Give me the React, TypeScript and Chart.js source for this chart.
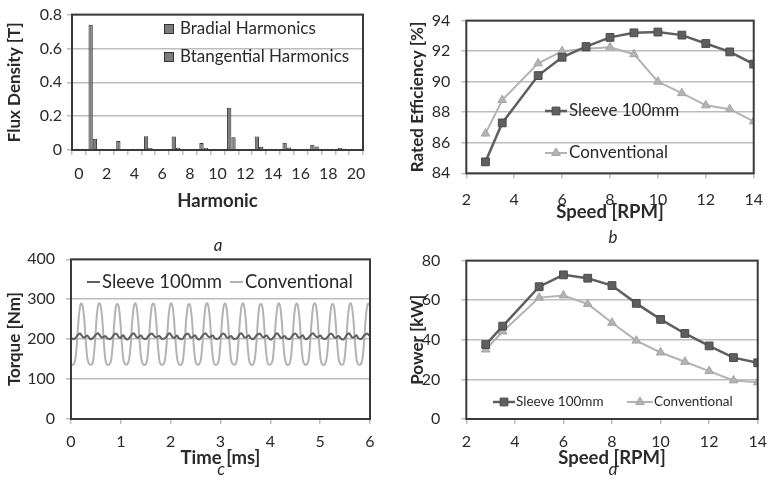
import React, { useEffect, useRef } from "react";
import { Chart, registerables } from "chart.js";

Chart.register(...registerables);

const FONT = "Lato, 'Open Sans', 'DejaVu Sans', sans-serif";
const TEXT = "#2a2a2a";
const GRID = "#bdbdbd";
const FRAME = "#3a3a3a";
const DARK = "#5f5f5f";
const DARK_EDGE = "#4a4a4a";
const LIGHT = "#b3b3b3";
const BAR_FILL = "#7c7c7c";
const BAR_EDGE = "#333333";

// ---------- Panel a: flux density harmonics ----------
const harmonicLabels = [
  "0", "1", "2", "3", "4", "5", "6", "7", "8", "9", "10",
  "11", "12", "13", "14", "15", "16", "17", "18", "19", "20",
];
const bRadial = [
  0.007, 0.74, 0, 0.053, 0, 0.081, 0, 0.08, 0, 0.041, 0.006,
  0.249, 0.005, 0.08, 0.006, 0.043, 0, 0.031, 0, 0.014, 0,
];
const bTangential = [
  0.002, 0.067, 0, 0.004, 0, 0.014, 0, 0.014, 0, 0.012, 0.002,
  0.076, 0.002, 0.019, 0.003, 0.015, 0, 0.02, 0, 0.008, 0,
];

// ---------- Panel b: rated efficiency ----------
const speedRpm = [2.8, 3.5, 5, 6, 7, 8, 9, 10, 11, 12, 13, 14];
const effSleeve = [84.75, 87.3, 90.4, 91.6, 92.3, 92.9, 93.2, 93.25, 93.05, 92.5, 91.95, 91.15];
const effConventional = [86.6, 88.8, 91.2, 92.0, 92.15, 92.25, 91.8, 90.0, 89.25, 88.45, 88.2, 87.4];

// ---------- Panel c: torque waveform (sampled every 0.03 ms) ----------
const TIME_STEP_MS = 0.03;
const torqueSleeve = [
  203,
  201, 200, 203, 208, 212, 214, 210, 205, 204, 207, 209, 204,
  200, 201, 204, 209, 213, 215, 211, 206, 204, 206, 208, 203,
  201, 200, 202, 207, 212, 214, 211, 205, 203, 207, 210, 204,
  200, 199, 203, 208, 213, 215, 210, 204, 204, 208, 209, 203,
  201, 200, 204, 209, 212, 214, 211, 206, 205, 207, 208, 204,
  200, 201, 203, 207, 213, 215, 210, 205, 203, 206, 209, 203,
  201, 200, 202, 208, 212, 214, 211, 204, 204, 207, 210, 204,
  200, 199, 204, 209, 213, 215, 210, 206, 205, 208, 209, 203,
  201, 200, 203, 207, 212, 214, 211, 205, 203, 206, 208, 204,
  200, 201, 202, 208, 213, 215, 210, 204, 204, 207, 210, 203,
  201, 200, 204, 209, 212, 214, 211, 206, 205, 208, 209, 204,
  200, 199, 203, 207, 213, 215, 210, 205, 203, 206, 208, 203,
  201, 200, 202, 208, 212, 214, 211, 204, 204, 207, 210, 204,
  200, 201, 204, 209, 213, 215, 210, 206, 205, 208, 209, 203,
  201, 200, 203, 207, 212, 214, 211, 205, 203, 206, 208, 204,
  200, 199, 202, 208, 213, 215, 210, 204, 204, 207, 210, 203,
  201, 200, 204, 209, 212, 214, 211, 207,
];
const torqueConventional = [
  139,
  135, 138, 152, 192, 246, 281, 289, 279, 244, 188, 151, 139,
  136, 137, 150, 191, 247, 282, 290, 281, 246, 190, 149, 138,
  135, 138, 151, 189, 244, 280, 288, 280, 245, 191, 150, 139,
  136, 139, 152, 190, 246, 281, 290, 279, 243, 189, 151, 138,
  135, 137, 150, 192, 247, 282, 289, 281, 246, 190, 150, 137,
  136, 138, 151, 190, 245, 280, 290, 280, 244, 191, 152, 139,
  135, 137, 150, 189, 246, 281, 288, 279, 245, 189, 150, 138,
  136, 139, 152, 191, 247, 282, 290, 281, 246, 190, 151, 137,
  135, 138, 150, 190, 244, 280, 289, 280, 243, 191, 149, 139,
  136, 137, 151, 192, 246, 281, 290, 279, 245, 189, 150, 138,
  135, 138, 152, 189, 247, 282, 288, 281, 246, 190, 151, 137,
  136, 139, 150, 191, 245, 280, 290, 280, 244, 191, 152, 139,
  135, 137, 151, 190, 246, 281, 289, 279, 245, 189, 150, 138,
  136, 138, 150, 192, 247, 282, 290, 281, 246, 190, 149, 137,
  135, 139, 152, 189, 244, 280, 288, 280, 243, 191, 151, 139,
  136, 137, 151, 191, 246, 281, 290, 279, 245, 190, 150, 138,
  135, 138, 151, 190, 245, 281, 289, 281,
];

// ---------- Panel d: power ----------
const powerSleeve = [37.6, 46.9, 66.8, 72.8, 71.1, 67.4, 58.4, 50.3, 43.2, 36.9, 31.0, 28.4];
const powerConventional = [35.1, 44.2, 61.3, 62.4, 58.1, 48.6, 39.6, 33.6, 28.9, 24.2, 19.5, 18.5];

// ---------- plugins ----------
function drawMarker(ctx: CanvasRenderingContext2D, kind: string, x: number, y: number, r: number, fill: string, edge: string) {
  ctx.fillStyle = fill;
  ctx.strokeStyle = edge;
  ctx.lineWidth = 1;
  ctx.beginPath();
  if (kind === "rect") {
    const s = r * Math.SQRT1_2;
    ctx.rect(x - s, y - s, 2 * s, 2 * s);
  } else if (kind === "triangle") {
    ctx.moveTo(x, y - r);
    ctx.lineTo(x + r * 0.866, y + r * 0.5);
    ctx.lineTo(x - r * 0.866, y + r * 0.5);
    ctx.closePath();
  }
  ctx.fill();
  ctx.stroke();
}

const insideLegend = {
  id: "insideLegend",
  afterDraw(chart: any, _args: any, opts: any) {
    const ctx = chart.ctx as CanvasRenderingContext2D;
    const items = (opts && opts.items) || [];
    ctx.save();
    for (const it of items) {
      const ds = chart.data.datasets[it.index];
      if (it.kind === "box") {
        const s = it.size;
        ctx.fillStyle = ds.backgroundColor;
        ctx.fillRect(it.x, it.y - s / 2, s, s);
        ctx.strokeStyle = ds.borderColor;
        ctx.lineWidth = 1;
        ctx.strokeRect(it.x + 0.5, it.y - s / 2 + 0.5, s - 1, s - 1);
      } else {
        ctx.strokeStyle = ds.borderColor;
        ctx.lineWidth = ds.borderWidth;
        ctx.beginPath();
        ctx.moveTo(it.x, it.y);
        ctx.lineTo(it.x + it.len, it.y);
        ctx.stroke();
        if (ds.pointStyle && ds.pointRadius > 0) {
          drawMarker(ctx, ds.pointStyle, it.x + it.len / 2, it.y, ds.pointRadius, ds.pointBackgroundColor, ds.pointBorderColor);
        }
      }
      ctx.fillStyle = TEXT;
      ctx.font = it.font;
      ctx.textAlign = "left";
      ctx.textBaseline = "middle";
      ctx.fillText(ds.label, it.textX, it.y);
    }
    ctx.restore();
  },
};

const framePlugin = {
  id: "frame",
  afterDatasetsDraw(chart: any, _args: any, opts: any) {
    const ctx = chart.ctx as CanvasRenderingContext2D;
    const { left, top, right, bottom } = chart.chartArea;
    ctx.save();
    ctx.strokeStyle = FRAME;
    ctx.lineWidth = 2;
    ctx.strokeRect(left, top, right - left, bottom - top);
    const caps = (opts && opts.captions) || [];
    for (const cap of caps) {
      ctx.font = `italic 17px ${FONT}`;
      ctx.fillStyle = TEXT;
      ctx.textAlign = "center";
      ctx.textBaseline = "alphabetic";
      ctx.fillText(cap.text, cap.x, cap.y);
    }
    ctx.restore();
  },
};

// ---------- scale helpers ----------
const tickFont = { family: FONT, size: 16 };
const yTitleFont = { family: FONT, size: 17, weight: "bold" as const };
const xTitleFont = { family: FONT, size: 18.5, weight: "bold" as const };

function yAxis(min: number, max: number, step: number, title: string, tickPad: number, titlePad: number, width: number) {
  return {
    min,
    max,
    ticks: { stepSize: step, padding: tickPad, color: TEXT, font: tickFont },
    grid: { color: GRID, lineWidth: 1.5, tickLength: 5, drawTicks: true },
    border: { display: false },
    title: { display: true, text: title, color: TEXT, font: yTitleFont, padding: { top: titlePad, bottom: 0 } },
    afterFit: (s: any) => {
      s.width = width;
    },
  };
}

function xLinear(min: number, max: number, step: number, title: string, tickPad: number, titlePad: number, height: number) {
  return {
    type: "linear" as const,
    min,
    max,
    ticks: { stepSize: step, padding: tickPad, color: TEXT, font: tickFont, maxRotation: 0 },
    grid: { color: GRID, lineWidth: 1.5, tickLength: 5, drawOnChartArea: false, drawTicks: true },
    border: { display: false },
    title: { display: true, text: title, color: TEXT, font: xTitleFont, padding: { top: 0, bottom: titlePad } },
    afterFit: (s: any) => {
      s.height = height;
    },
  };
}

const basePlugins = { legend: { display: false }, tooltip: { enabled: false } };

function xy(xs: number[], ys: number[]) {
  return ys.map((y, i) => ({ x: xs[i], y }));
}

const timeAxis = torqueConventional.map((_, i) => Number((i * TIME_STEP_MS).toFixed(2)));

function sleeveLine(label: string, data: any[]) {
  return {
    label,
    data,
    borderColor: DARK,
    backgroundColor: DARK,
    borderWidth: 2.5,
    pointStyle: "rect",
    pointRadius: 5.5,
    pointBackgroundColor: DARK,
    pointBorderColor: DARK_EDGE,
    pointBorderWidth: 1,
    tension: 0,
  };
}
function convLine(label: string, data: any[]) {
  return {
    label,
    data,
    borderColor: LIGHT,
    backgroundColor: LIGHT,
    borderWidth: 2,
    pointStyle: "triangle",
    pointRadius: 5,
    pointBackgroundColor: LIGHT,
    pointBorderColor: "#a5a5a5",
    pointBorderWidth: 1,
    tension: 0,
  };
}

function makeConfigs(): any[] {
  const a = {
    type: "bar",
    data: {
      labels: harmonicLabels,
      datasets: [
        { label: "Bradial Harmonics", data: bRadial, backgroundColor: BAR_FILL, borderColor: BAR_EDGE, borderWidth: 1, barPercentage: 1, categoryPercentage: 0.62 },
        { label: "Btangential Harmonics", data: bTangential, backgroundColor: BAR_FILL, borderColor: BAR_EDGE, borderWidth: 1, barPercentage: 1, categoryPercentage: 0.62 },
      ],
    },
    options: {
      responsive: false,
      animation: false,
      layout: { padding: { top: 14, right: 22, left: 0, bottom: 0 } },
      plugins: {
        ...basePlugins,
        insideLegend: {
          items: [
            { index: 0, kind: "box", x: 164, y: 29, size: 10, textX: 180, font: `17px ${FONT}` },
            { index: 1, kind: "box", x: 164, y: 57, size: 10, textX: 180, font: `17px ${FONT}` },
          ],
        },
      },
      scales: {
        x: {
          type: "category",
          offset: true,
          ticks: {
            autoSkip: false,
            maxRotation: 0,
            padding: 9.4,
            color: TEXT,
            font: tickFont,
            callback: (_v: any, i: number) => (i % 2 === 0 ? harmonicLabels[i] : ""),
          },
          grid: { offset: true, color: GRID, lineWidth: 1.5, tickLength: 5, drawOnChartArea: false },
          border: { display: false },
          title: { display: true, text: "Harmonic", color: TEXT, font: xTitleFont, padding: { top: 0, bottom: 17.9 } },
          afterFit: (s: any) => {
            s.height = 80;
          },
        },
        y: yAxis(0, 0.8, 0.2, "Flux Density [T]", 5, 4.8, 72),
      },
    },
  };

  const b = {
    type: "line",
    data: {
      datasets: [sleeveLine("Sleeve 100mm", xy(speedRpm, effSleeve)), convLine("Conventional", xy(speedRpm, effConventional))],
    },
    options: {
      responsive: false,
      animation: false,
      layout: { padding: { top: 14, right: 8.3, left: 0, bottom: 0 } },
      plugins: {
        ...basePlugins,
        insideLegend: {
          items: [
            { index: 0, kind: "line", x: 160, y: 111, len: 22, textX: 184, font: `17px ${FONT}` },
            { index: 1, kind: "line", x: 160, y: 153, len: 22, textX: 184, font: `17px ${FONT}` },
          ],
        },
      },
      scales: {
        x: xLinear(2, 14, 2, "Speed [RPM]", 12, 6.9, 56.7),
        y: yAxis(84, 94, 2, "Rated Efficiency [%]", 11, 22.8, 81.3),
      },
    },
  };

  const c = {
    type: "line",
    data: {
      datasets: [
        { label: "Sleeve 100mm", data: xy(timeAxis, torqueSleeve), borderColor: DARK, borderWidth: 2, pointRadius: 0, cubicInterpolationMode: "monotone" },
        { label: "Conventional", data: xy(timeAxis, torqueConventional), borderColor: LIGHT, borderWidth: 2, pointRadius: 0, cubicInterpolationMode: "monotone" },
      ],
    },
    options: {
      responsive: false,
      animation: false,
      layout: { padding: { top: 29.3, right: 15, left: 0, bottom: 0 } },
      plugins: {
        ...basePlugins,
        insideLegend: {
          items: [
            { index: 0, kind: "line", x: 87, y: 52, len: 13, textX: 102, font: `18.5px ${FONT}` },
            { index: 1, kind: "line", x: 230, y: 52, len: 13, textX: 245, font: `18.5px ${FONT}` },
          ],
        },
        frame: {
          captions: [
            { text: "a", x: 218, y: 21 },
            { text: "c", x: 221, y: 245 },
          ],
        },
      },
      scales: {
        x: xLinear(0, 6, 1, "Time [ms]", 8, 17.9, 68),
        y: yAxis(0, 400, 100, "Torque [Nm]", 11, 4.8, 71),
      },
    },
  };

  const d = {
    type: "line",
    data: {
      datasets: [sleeveLine("Sleeve 100mm", xy(speedRpm, powerSleeve)), convLine("Conventional", xy(speedRpm, powerConventional))],
    },
    options: {
      responsive: false,
      animation: false,
      layout: { padding: { top: 29.3, right: 9.3, left: 0, bottom: 0 } },
      plugins: {
        ...basePlugins,
        insideLegend: {
          items: [
            { index: 0, kind: "line", x: 108, y: 172, len: 22, textX: 131, font: `13.5px ${FONT}` },
            { index: 1, kind: "line", x: 242, y: 172, len: 26, textX: 269, font: `13.5px ${FONT}` },
          ],
        },
        frame: {
          captions: [
            { text: "b", x: 228, y: 13 },
            { text: "d", x: 228, y: 245 },
          ],
        },
      },
      scales: {
        x: xLinear(2, 14, 2, "Speed [RPM]", 8, 17.9, 68),
        y: yAxis(0, 80, 20, "Power [kW]", 21, 22.8, 81.3),
      },
    },
  };
  return [a, b, c, d];
}

const PANELS = [
  { left: 0, top: 0, width: 385, height: 230 },
  { left: 385, top: 0, width: 390, height: 230 },
  { left: 0, top: 230, width: 385, height: 257 },
  { left: 385, top: 230, width: 390, height: 257 },
];

export default function App() {
  const refs = [useRef<HTMLCanvasElement>(null), useRef<HTMLCanvasElement>(null), useRef<HTMLCanvasElement>(null), useRef<HTMLCanvasElement>(null)];

  useEffect(() => {
    document.body.style.margin = "0";
    const configs = makeConfigs();
    const charts = configs.map((cfg, i) => {
      const canvas = refs[i].current as HTMLCanvasElement;
      return new Chart(canvas, { ...cfg, plugins: [insideLegend, framePlugin] } as any);
    });
    return () => charts.forEach((ch) => ch.destroy());
  }, []);

  return (
    <div style={{ position: "fixed", left: 0, top: 0, width: 775, height: 487, background: "#ffffff" }}>
      {PANELS.map((p, i) => (
        <canvas
          key={i}
          ref={refs[i]}
          width={p.width}
          height={p.height}
          style={{ position: "absolute", left: p.left, top: p.top, width: p.width, height: p.height }}
        />
      ))}
    </div>
  );
}
